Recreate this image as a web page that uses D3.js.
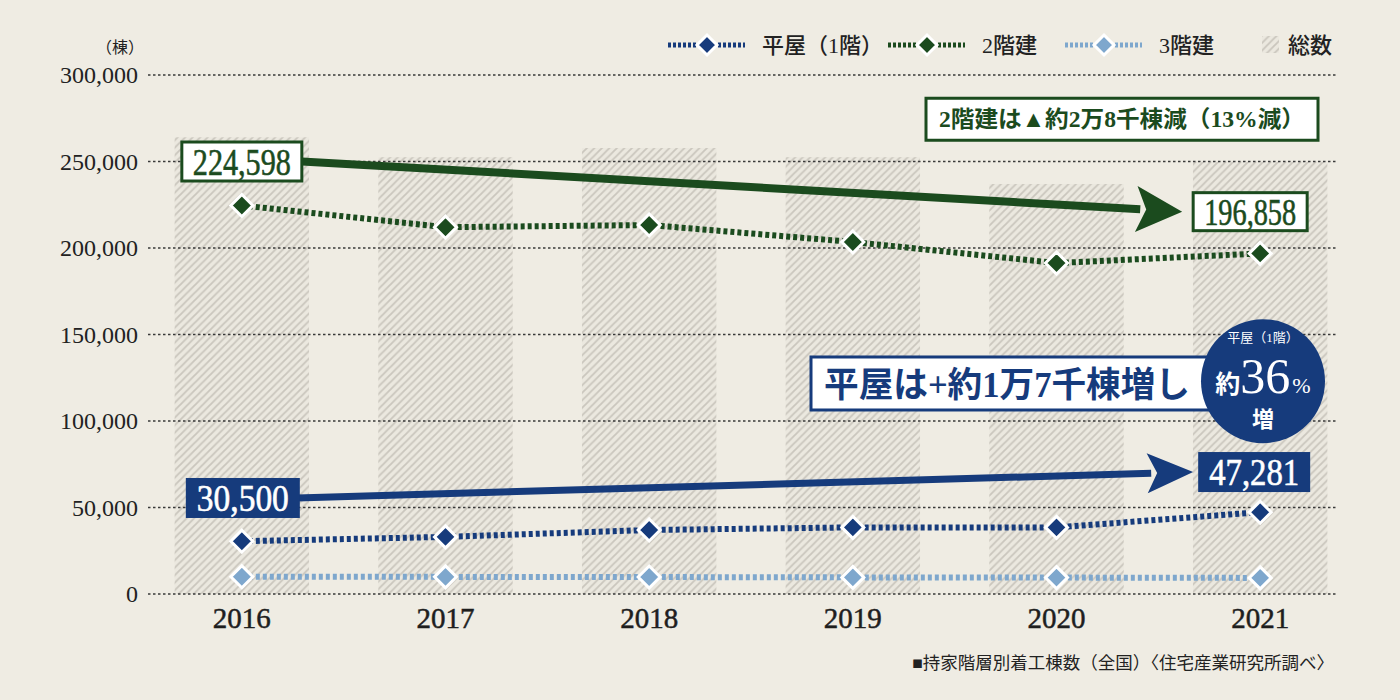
<!DOCTYPE html>
<html>
<head>
<meta charset="utf-8">
<script src="https://cdn.jsdelivr.net/npm/d3@7/dist/d3.min.js"></script>
<style>
  html, body {
    margin: 0;
    padding: 0;
    background: #efece3;
    overflow: hidden;
  }
  svg { display: block; }
</style>
</head>
<body>
<script>
// ---------- data ----------
const years = ["2016", "2017", "2018", "2019", "2020", "2021"];
const totals = [264000, 252500, 257800, 252500, 237000, 249800];   // 総数 (hatched bars)
const hiraya = [30500, 33000, 37000, 38500, 38500, 47281];          // 平屋（1階）
const nikai = [224598, 212000, 213300, 203500, 191300, 196858];     // 2階建
const sankai = [10000, 9900, 9800, 9600, 9500, 9300];               // 3階建
const yTicks = [0, 50000, 100000, 150000, 200000, 250000, 300000];

const seriesNames = ["平屋（1階）", "2階建", "3階建"];
const totalName = "総数";

// ---------- layout ----------
const WIDTH = 1400, HEIGHT = 700;
const GRID_LEFT = 148, GRID_RIGHT = 1336;
const NAVY = "#163b7c", GREEN = "#1b4b1e", LIGHT = "#7ea7cd";
const SERIF = "'Liberation Serif', 'Noto Sans CJK JP', serif";
const JP = "'Noto Sans CJK JP', sans-serif";

const svg = d3.select("body").append("svg")
  .attr("width", WIDTH)
  .attr("height", HEIGHT);

svg.append("rect").attr("width", WIDTH).attr("height", HEIGHT).attr("fill", "#efece3");

// hatch for the 総数 bars
const defs = svg.append("defs");
const pat = defs.append("pattern")
  .attr("id", "hatch")
  .attr("patternUnits", "userSpaceOnUse")
  .attr("width", 7.5).attr("height", 7.5);
pat.append("rect").attr("width", 7.5).attr("height", 7.5).attr("fill", "#ebe8df");
pat.append("path")
  .attr("d", "M-1,1 l2,-2 M0,7.5 l7.5,-7.5 M6.5,8.5 l2,-2")
  .attr("stroke", "#cac6bd")
  .attr("stroke-width", 1.8);

const x = d3.scaleBand()
  .domain(years)
  .range([140, 1362])
  .paddingInner(0.34)
  .paddingOuter(0.17);
const cx = d => x(d) + x.bandwidth() / 2;

const y = d3.scaleLinear()
  .domain([0, 300000])
  .range([594, 75]);

// ---------- bars (総数) ----------
svg.append("g").selectAll("rect")
  .data(years)
  .join("rect")
  .attr("x", d => x(d))
  .attr("width", x.bandwidth())
  .attr("y", (d, i) => y(totals[i]))
  .attr("height", (d, i) => y(0) - y(totals[i]))
  .attr("fill", "url(#hatch)");

// ---------- y axis ----------
const yAxis = svg.append("g")
  .attr("transform", `translate(${GRID_LEFT},0)`)
  .call(d3.axisLeft(y).tickValues(yTicks).tickFormat(d3.format(",")).tickSize(0).tickPadding(10));
yAxis.select(".domain").remove();
yAxis.selectAll("text")
  .attr("font-family", SERIF)
  .attr("font-size", 24)
  .attr("fill", "#222");
yAxis.selectAll(".tick line").remove();

svg.append("g").selectAll("line")
  .data(yTicks)
  .join("line")
  .attr("x1", GRID_LEFT).attr("x2", GRID_RIGHT)
  .attr("y1", d => y(d)).attr("y2", d => y(d))
  .attr("stroke", "#3a3a3a")
  .attr("stroke-width", 1.3)
  .attr("stroke-dasharray", "2.5,2.5");

svg.append("text")
  .attr("x", 120).attr("y", 53)
  .attr("text-anchor", "middle")
  .attr("font-family", JP)
  .attr("font-size", 16)
  .attr("fill", "#222")
  .text("（棟）");

// ---------- x axis ----------
const xAxis = svg.append("g")
  .attr("transform", `translate(0,${y(0)})`)
  .call(d3.axisBottom(x).tickSize(0).tickPadding(13));
xAxis.select(".domain").remove();
xAxis.selectAll("text")
  .attr("font-family", SERIF)
  .attr("font-size", 29)
  .attr("fill", "#1e1e1e")
  .attr("stroke", "#1e1e1e")
  .attr("stroke-width", 0.5);

// ---------- lines ----------
const line = d3.line().x((d, i) => cx(years[i])).y(d => y(d));
const series = [
  { name: seriesNames[0], values: hiraya, color: NAVY },
  { name: seriesNames[1], values: nikai, color: GREEN },
  { name: seriesNames[2], values: sankai, color: LIGHT }
];

const diamond = r => `M0,${-r}L${r},0L0,${r}L${-r},0Z`;

series.forEach(s => {
  svg.append("path")
    .datum(s.values)
    .attr("d", line)
    .attr("fill", "none")
    .attr("stroke", s.color)
    .attr("stroke-width", 6)
    .attr("stroke-dasharray", "4,3");
  svg.append("g").selectAll("path")
    .data(s.values)
    .join("path")
    .attr("transform", (d, i) => `translate(${cx(years[i])},${y(d)})`)
    .attr("d", diamond(11))
    .attr("fill", s.color)
    .attr("stroke", "#fff")
    .attr("stroke-width", 3);
});

// ---------- arrows ----------
function arrow(x1, y1, x2, y2, color, w, headLen, headHalf) {
  const ang = Math.atan2(y2 - y1, x2 - x1);
  const bx = x2 - headLen * Math.cos(ang), by = y2 - headLen * Math.sin(ang);
  svg.append("line")
    .attr("x1", x1).attr("y1", y1).attr("x2", bx + 4 * Math.cos(ang)).attr("y2", by + 4 * Math.sin(ang))
    .attr("stroke", color).attr("stroke-width", w);
  const px = -Math.sin(ang) * headHalf, py = Math.cos(ang) * headHalf;
  svg.append("path")
    .attr("d", `M${x2},${y2}L${bx + px},${by + py}L${bx + 10 * Math.cos(ang)},${by + 10 * Math.sin(ang)}L${bx - px},${by - py}Z`)
    .attr("fill", color);
}
arrow(cx("2016") + 60, y(250000), cx("2021") - 78, y(221000), GREEN, 8, 46, 23);
arrow(cx("2016") + 55, y(55500), cx("2021") - 67, y(70500), NAVY, 7, 46, 20);

// ---------- value boxes ----------
function valueBox(cxPos, cyPos, w, h, text, color, filled) {
  const g = svg.append("g").attr("transform", `translate(${cxPos},${cyPos})`);
  g.append("rect")
    .attr("x", -w / 2).attr("y", -h / 2)
    .attr("width", w).attr("height", h)
    .attr("fill", filled ? color : "#fff")
    .attr("stroke", color)
    .attr("stroke-width", filled ? 0 : 3);
  g.append("text")
    .attr("y", 13)
    .attr("text-anchor", "middle")
    .attr("font-family", SERIF)
    .attr("font-size", 38)
    .attr("fill", filled ? "#fff" : color)
    .attr("stroke", filled ? "#fff" : color)
    .attr("stroke-width", 0.6)
    .attr("textLength", w - 22)
    .attr("lengthAdjust", "spacingAndGlyphs")
    .text(text);
}
const fmt = d3.format(",");
valueBox(cx("2016"), y(250000), 120, 39, fmt(nikai[0]), GREEN, false);
valueBox(cx("2021") - 10, y(221000), 114, 38, fmt(nikai[5]), GREEN, false);
valueBox(cx("2016") + 1, y(55500), 114, 40, fmt(hiraya[0]), NAVY, true);
valueBox(cx("2021") - 6, y(70500), 112, 40, fmt(hiraya[5]), NAVY, true);

// ---------- annotations ----------
const ann1 = svg.append("g");
ann1.append("rect")
  .attr("x", 926).attr("y", y(275000) - 20)
  .attr("width", 392).attr("height", 42)
  .attr("fill", "#fff").attr("stroke", GREEN).attr("stroke-width", 3);
ann1.append("text")
  .attr("x", 1122).attr("y", y(275000) + 9)
  .attr("text-anchor", "middle")
  .attr("font-family", SERIF)
  .attr("font-weight", "bold")
  .attr("font-size", 23)
  .attr("fill", GREEN)
  .attr("textLength", 366)
  .attr("lengthAdjust", "spacingAndGlyphs")
  .text("2階建は▲約2万8千棟減（13%減）");

const ann2 = svg.append("g");
ann2.append("rect")
  .attr("x", 811).attr("y", y(137000))
  .attr("width", 420).attr("height", 53)
  .attr("fill", "#fff").attr("stroke", NAVY).attr("stroke-width", 3);
ann2.append("text")
  .attr("x", 824).attr("y", y(137000) + 40)
  .attr("font-family", SERIF)
  .attr("font-weight", "bold")
  .attr("font-size", 35)
  .attr("fill", NAVY)
  .attr("textLength", 366)
  .attr("lengthAdjust", "spacingAndGlyphs")
  .text("平屋は+約1万7千棟増し");

const badge = svg.append("g").attr("transform", `translate(1263,${y(123000)})`);
badge.append("circle").attr("r", 62).attr("fill", NAVY);
badge.append("text")
  .attr("y", -39)
  .attr("text-anchor", "middle")
  .attr("font-family", SERIF)
  .attr("font-size", 13)
  .attr("fill", "#fff")
  .text("平屋（1階）");
const pct = badge.append("text")
  .attr("y", 12)
  .attr("text-anchor", "middle")
  .attr("font-family", SERIF)
  .attr("fill", "#fff");
pct.append("tspan").attr("font-size", 25).attr("font-weight", "bold").text("約");
pct.append("tspan").attr("font-size", 50).text("36");
pct.append("tspan").attr("font-size", 22).attr("dx", 2).text("%");
badge.append("text")
  .attr("y", 46)
  .attr("text-anchor", "middle")
  .attr("font-family", SERIF)
  .attr("font-weight", "bold")
  .attr("font-size", 22)
  .attr("fill", "#fff")
  .text("増");

// ---------- legend ----------
const legendItems = [
  { name: seriesNames[0], color: NAVY, x0: 668 },
  { name: seriesNames[1], color: GREEN, x0: 888 },
  { name: seriesNames[2], color: LIGHT, x0: 1065 }
];
const legend = svg.append("g").attr("transform", "translate(0,45)");
legendItems.forEach(it => {
  legend.append("line")
    .attr("x1", it.x0).attr("x2", it.x0 + 77)
    .attr("stroke", it.color).attr("stroke-width", 5)
    .attr("stroke-dasharray", "3,2");
  legend.append("path")
    .attr("transform", `translate(${it.x0 + 39},0)`)
    .attr("d", diamond(10))
    .attr("fill", it.color).attr("stroke", "#fff").attr("stroke-width", 3);
  legend.append("text")
    .attr("x", it.x0 + 94).attr("y", 8)
    .attr("font-family", SERIF)
    .attr("font-weight", "500")
    .attr("font-size", 22)
    .attr("fill", "#222")
    .text(it.name);
});
legend.append("rect")
  .attr("x", 1262).attr("y", -9)
  .attr("width", 17).attr("height", 17)
  .attr("fill", "url(#hatch)");
legend.append("text")
  .attr("x", 1288).attr("y", 8)
  .attr("font-family", SERIF)
  .attr("font-weight", "500")
  .attr("font-size", 22)
  .attr("fill", "#222")
  .text(totalName);

// ---------- source ----------
svg.append("text")
  .attr("x", 1334).attr("y", 669)
  .attr("text-anchor", "end")
  .attr("font-family", SERIF)
  .attr("font-size", 17.5)
  .attr("fill", "#222")
  .text("■持家階層別着工棟数（全国）〈住宅産業研究所調べ〉");
</script>
</body>
</html>
